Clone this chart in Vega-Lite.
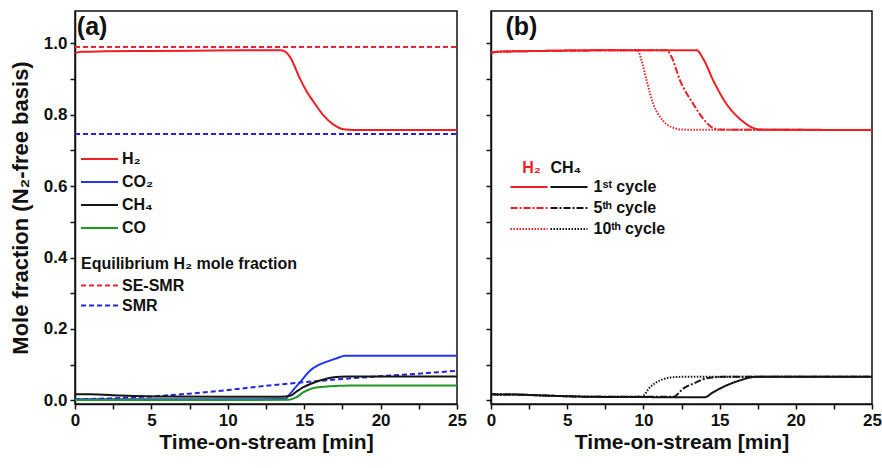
{
  "$schema": "https://vega.github.io/schema/vega-lite/v6.json",
  "padding": {"left": 8, "top": 10, "right": 5, "bottom": 5},
  "background": "white",
  "spacing": 16,
  "config": {
    "font": "Liberation Sans",
    "view": {"stroke": "#111", "strokeWidth": 1.5},
    "axis": {
      "labelFont": "Liberation Sans", "labelFontWeight": "bold", "labelFontSize": 17, "labelColor": "#111",
      "titleFont": "Liberation Sans", "titleFontWeight": "bold", "titleColor": "#111",
      "domainColor": "#111", "domainWidth": 1.5, "tickColor": "#111", "tickWidth": 1.5, "tickSize": 5,
      "grid": false, "labelFlush": false, "labelOverlap": false, "labelPadding": 3
    },
    "legend": {
      "labelFont": "Liberation Sans", "labelFontWeight": "bold", "labelFontSize": 16, "labelColor": "#111",
      "titleFont": "Liberation Sans", "titleFontWeight": "bold", "titleFontSize": 16, "titleColor": "#111", "titleLimit": 500, "labelLimit": 300,
      "symbolType": "M-1.135,0H2.865", "symbolStrokeWidth": 2.2, "symbolSize": 342, "labelOffset": 20, "rowPadding": 4, "padding": 0
    }
  },
  "datasets": {
    "a": [
      {"series": "H₂", "t": 0, "y": 0.972}, {"series": "H₂", "t": 0.4, "y": 0.976}, {"series": "H₂", "t": 2, "y": 0.977},
      {"series": "H₂", "t": 5, "y": 0.978}, {"series": "H₂", "t": 8, "y": 0.979}, {"series": "H₂", "t": 11, "y": 0.98},
      {"series": "H₂", "t": 13.5, "y": 0.98}, {"series": "H₂", "t": 14.08, "y": 0.961}, {"series": "H₂", "t": 14.73, "y": 0.9},
      {"series": "H₂", "t": 15.2, "y": 0.862}, {"series": "H₂", "t": 15.61, "y": 0.836}, {"series": "H₂", "t": 16.26, "y": 0.798},
      {"series": "H₂", "t": 16.92, "y": 0.772}, {"series": "H₂", "t": 17.57, "y": 0.759}, {"series": "H₂", "t": 18.2, "y": 0.757},
      {"series": "H₂", "t": 25, "y": 0.757},
      {"series": "CO₂", "t": 0, "y": 0.003}, {"series": "CO₂", "t": 5, "y": 0.003}, {"series": "CO₂", "t": 10, "y": 0.003},
      {"series": "CO₂", "t": 13.75, "y": 0.004}, {"series": "CO₂", "t": 14.08, "y": 0.019}, {"series": "CO₂", "t": 14.4, "y": 0.035},
      {"series": "CO₂", "t": 14.73, "y": 0.051}, {"series": "CO₂", "t": 15.39, "y": 0.084}, {"series": "CO₂", "t": 15.8, "y": 0.096},
      {"series": "CO₂", "t": 16.26, "y": 0.105}, {"series": "CO₂", "t": 17.14, "y": 0.118}, {"series": "CO₂", "t": 17.68, "y": 0.125},
      {"series": "CO₂", "t": 25, "y": 0.125},
      {"series": "CH₄", "t": 0, "y": 0.017}, {"series": "CH₄", "t": 1, "y": 0.017}, {"series": "CH₄", "t": 3, "y": 0.014},
      {"series": "CH₄", "t": 6, "y": 0.011}, {"series": "CH₄", "t": 10, "y": 0.01}, {"series": "CH₄", "t": 13.5, "y": 0.01},
      {"series": "CH₄", "t": 14.08, "y": 0.013}, {"series": "CH₄", "t": 14.5, "y": 0.025}, {"series": "CH₄", "t": 14.95, "y": 0.037},
      {"series": "CH₄", "t": 15.4, "y": 0.046}, {"series": "CH₄", "t": 15.83, "y": 0.053}, {"series": "CH₄", "t": 16.4, "y": 0.06},
      {"series": "CH₄", "t": 16.92, "y": 0.065}, {"series": "CH₄", "t": 17.8, "y": 0.067}, {"series": "CH₄", "t": 25, "y": 0.067},
      {"series": "CO", "t": 0, "y": 0.001}, {"series": "CO", "t": 10, "y": 0.001}, {"series": "CO", "t": 14.0, "y": 0.002},
      {"series": "CO", "t": 14.5, "y": 0.009}, {"series": "CO", "t": 14.95, "y": 0.023}, {"series": "CO", "t": 15.3, "y": 0.03},
      {"series": "CO", "t": 15.6, "y": 0.035}, {"series": "CO", "t": 16.5, "y": 0.039}, {"series": "CO", "t": 17.35, "y": 0.041},
      {"series": "CO", "t": 18, "y": 0.042}, {"series": "CO", "t": 25, "y": 0.042}
    ],
    "aeq": [
      {"eq": "SE-SMR", "curve": "se1", "t": 0, "y": 0.989}, {"eq": "SE-SMR", "curve": "se1", "t": 25, "y": 0.989},
      {"eq": "SMR", "curve": "smr1", "t": 0, "y": 0.746}, {"eq": "SMR", "curve": "smr1", "t": 25, "y": 0.746},
      {"eq": "SMR", "curve": "smr2", "t": 0, "y": 0.003}, {"eq": "SMR", "curve": "smr2", "t": 2.5, "y": 0.006},
      {"eq": "SMR", "curve": "smr2", "t": 5, "y": 0.011}, {"eq": "SMR", "curve": "smr2", "t": 7.5, "y": 0.019},
      {"eq": "SMR", "curve": "smr2", "t": 10, "y": 0.029}, {"eq": "SMR", "curve": "smr2", "t": 12.5, "y": 0.041},
      {"eq": "SMR", "curve": "smr2", "t": 15, "y": 0.051}, {"eq": "SMR", "curve": "smr2", "t": 17.5, "y": 0.06},
      {"eq": "SMR", "curve": "smr2", "t": 20, "y": 0.068}, {"eq": "SMR", "curve": "smr2", "t": 22.5, "y": 0.075},
      {"eq": "SMR", "curve": "smr2", "t": 25, "y": 0.083}
    ],
    "labels": [
      {"panel": "a", "label": "(a)"},
      {"panel": "b", "label": "(b)"}
    ],
    "b": [
      {"series": "H2", "cycle": "1ˢᵗ cycle", "t": 0, "y": 0.973}, {"series": "H2", "cycle": "1ˢᵗ cycle", "t": 0.5, "y": 0.976},
      {"series": "H2", "cycle": "1ˢᵗ cycle", "t": 3, "y": 0.978}, {"series": "H2", "cycle": "1ˢᵗ cycle", "t": 8, "y": 0.98},
      {"series": "H2", "cycle": "1ˢᵗ cycle", "t": 13.49, "y": 0.98}, {"series": "H2", "cycle": "1ˢᵗ cycle", "t": 13.93, "y": 0.956},
      {"series": "H2", "cycle": "1ˢᵗ cycle", "t": 14.58, "y": 0.896}, {"series": "H2", "cycle": "1ˢᵗ cycle", "t": 15.45, "y": 0.83},
      {"series": "H2", "cycle": "1ˢᵗ cycle", "t": 16.33, "y": 0.788}, {"series": "H2", "cycle": "1ˢᵗ cycle", "t": 17.09, "y": 0.765},
      {"series": "H2", "cycle": "1ˢᵗ cycle", "t": 17.64, "y": 0.758}, {"series": "H2", "cycle": "1ˢᵗ cycle", "t": 25, "y": 0.757},
      {"series": "H2", "cycle": "5ᵗʰ cycle", "t": 0, "y": 0.973}, {"series": "H2", "cycle": "5ᵗʰ cycle", "t": 0.5, "y": 0.976},
      {"series": "H2", "cycle": "5ᵗʰ cycle", "t": 3, "y": 0.978}, {"series": "H2", "cycle": "5ᵗʰ cycle", "t": 8, "y": 0.98},
      {"series": "H2", "cycle": "5ᵗʰ cycle", "t": 11.52, "y": 0.98}, {"series": "H2", "cycle": "5ᵗʰ cycle", "t": 11.85, "y": 0.961},
      {"series": "H2", "cycle": "5ᵗʰ cycle", "t": 12.4, "y": 0.896}, {"series": "H2", "cycle": "5ᵗʰ cycle", "t": 13.27, "y": 0.83},
      {"series": "H2", "cycle": "5ᵗʰ cycle", "t": 13.93, "y": 0.788}, {"series": "H2", "cycle": "5ᵗʰ cycle", "t": 14.47, "y": 0.765},
      {"series": "H2", "cycle": "5ᵗʰ cycle", "t": 15.02, "y": 0.758}, {"series": "H2", "cycle": "5ᵗʰ cycle", "t": 25, "y": 0.757},
      {"series": "H2", "cycle": "10ᵗʰ cycle", "t": 0, "y": 0.973}, {"series": "H2", "cycle": "10ᵗʰ cycle", "t": 0.5, "y": 0.976},
      {"series": "H2", "cycle": "10ᵗʰ cycle", "t": 3, "y": 0.978}, {"series": "H2", "cycle": "10ᵗʰ cycle", "t": 8, "y": 0.98},
      {"series": "H2", "cycle": "10ᵗʰ cycle", "t": 9.6, "y": 0.98}, {"series": "H2", "cycle": "10ᵗʰ cycle", "t": 9.88, "y": 0.952},
      {"series": "H2", "cycle": "10ᵗʰ cycle", "t": 10.21, "y": 0.896}, {"series": "H2", "cycle": "10ᵗʰ cycle", "t": 10.65, "y": 0.83},
      {"series": "H2", "cycle": "10ᵗʰ cycle", "t": 11.19, "y": 0.788}, {"series": "H2", "cycle": "10ᵗʰ cycle", "t": 11.85, "y": 0.765},
      {"series": "H2", "cycle": "10ᵗʰ cycle", "t": 12.6, "y": 0.758}, {"series": "H2", "cycle": "10ᵗʰ cycle", "t": 25, "y": 0.757},
      {"series": "CH4", "cycle": "1ˢᵗ cycle", "t": 0, "y": 0.017}, {"series": "CH4", "cycle": "1ˢᵗ cycle", "t": 2, "y": 0.016},
      {"series": "CH4", "cycle": "1ˢᵗ cycle", "t": 4, "y": 0.013}, {"series": "CH4", "cycle": "1ˢᵗ cycle", "t": 7, "y": 0.01},
      {"series": "CH4", "cycle": "1ˢᵗ cycle", "t": 14.03, "y": 0.009}, {"series": "CH4", "cycle": "1ˢᵗ cycle", "t": 14.58, "y": 0.023},
      {"series": "CH4", "cycle": "1ˢᵗ cycle", "t": 15.45, "y": 0.042}, {"series": "CH4", "cycle": "1ˢᵗ cycle", "t": 16.33, "y": 0.056},
      {"series": "CH4", "cycle": "1ˢᵗ cycle", "t": 16.98, "y": 0.064}, {"series": "CH4", "cycle": "1ˢᵗ cycle", "t": 17.42, "y": 0.066},
      {"series": "CH4", "cycle": "1ˢᵗ cycle", "t": 25, "y": 0.066},
      {"series": "CH4", "cycle": "5ᵗʰ cycle", "t": 0, "y": 0.017}, {"series": "CH4", "cycle": "5ᵗʰ cycle", "t": 2, "y": 0.016},
      {"series": "CH4", "cycle": "5ᵗʰ cycle", "t": 4, "y": 0.013}, {"series": "CH4", "cycle": "5ᵗʰ cycle", "t": 7, "y": 0.01},
      {"series": "CH4", "cycle": "5ᵗʰ cycle", "t": 11.96, "y": 0.01}, {"series": "CH4", "cycle": "5ᵗʰ cycle", "t": 12.61, "y": 0.033},
      {"series": "CH4", "cycle": "5ᵗʰ cycle", "t": 13.49, "y": 0.051}, {"series": "CH4", "cycle": "5ᵗʰ cycle", "t": 14.14, "y": 0.062},
      {"series": "CH4", "cycle": "5ᵗʰ cycle", "t": 15.24, "y": 0.066}, {"series": "CH4", "cycle": "5ᵗʰ cycle", "t": 25, "y": 0.066},
      {"series": "CH4", "cycle": "10ᵗʰ cycle", "t": 0, "y": 0.017}, {"series": "CH4", "cycle": "10ᵗʰ cycle", "t": 2, "y": 0.016},
      {"series": "CH4", "cycle": "10ᵗʰ cycle", "t": 4, "y": 0.013}, {"series": "CH4", "cycle": "10ᵗʰ cycle", "t": 7, "y": 0.01},
      {"series": "CH4", "cycle": "10ᵗʰ cycle", "t": 9.88, "y": 0.01}, {"series": "CH4", "cycle": "10ᵗʰ cycle", "t": 10.43, "y": 0.037},
      {"series": "CH4", "cycle": "10ᵗʰ cycle", "t": 11.09, "y": 0.056}, {"series": "CH4", "cycle": "10ᵗʰ cycle", "t": 11.96, "y": 0.065},
      {"series": "CH4", "cycle": "10ᵗʰ cycle", "t": 12.5, "y": 0.066}, {"series": "CH4", "cycle": "10ᵗʰ cycle", "t": 25, "y": 0.066}
    ]
  },
  "hconcat": [
    {
      "width": 382,
      "height": 393,
      "layer": [
        {
          "data": {"name": "aeq"},
          "mark": {"type": "line", "strokeWidth": 2, "strokeDash": [5, 3]},
          "encoding": {
            "x": {
              "field": "t", "type": "quantitative",
              "scale": {"domain": [0, 25], "nice": false, "zero": false},
              "axis": {
                "title": "Time-on-stream [min]", "titleFontSize": 21, "titlePadding": 3, "labelPadding": 3,
                "values": [0, 2.5, 5, 7.5, 10, 12.5, 15, 17.5, 20, 22.5, 25],
                "labelExpr": "datum.value % 5 == 0 ? datum.label : ''"
              }
            },
            "y": {
              "field": "y", "type": "quantitative",
              "scale": {"domain": [-0.01, 1.09], "nice": false, "zero": false},
              "axis": {
                "title": "Mole fraction (N₂-free basis)", "titleFontSize": 22, "titlePadding": 11,
                "values": [0, 0.1, 0.2, 0.3, 0.4, 0.5, 0.6, 0.7, 0.8, 0.9, 1.0],
                "labelExpr": "round(datum.value * 10) % 2 == 0 ? format(datum.value, '.1f') : ''"
              }
            },
            "color": {
              "field": "eq", "type": "nominal",
              "scale": {"domain": ["SE-SMR", "SMR"], "range": ["#e8262e", "#2424d8"]},
              "legend": {"title": "Equilibrium H₂ mole fraction", "orient": "none", "legendX": 6, "legendY": 245, "symbolDash": [5, 3], "titlePadding": 3, "rowPadding": 1}
            },
            "detail": {"field": "curve"}
          }
        },
        {
          "data": {"name": "a"},
          "mark": {"type": "line", "strokeWidth": 2, "interpolate": "monotone"},
          "encoding": {
            "x": {
              "field": "t", "type": "quantitative",
              "axis": {
                "title": "Time-on-stream [min]", "titleFontSize": 21, "titlePadding": 3, "labelPadding": 3,
                "values": [0, 2.5, 5, 7.5, 10, 12.5, 15, 17.5, 20, 22.5, 25],
                "labelExpr": "datum.value % 5 == 0 ? datum.label : ''"
              }
            },
            "y": {
              "field": "y", "type": "quantitative",
              "axis": {
                "title": "Mole fraction (N₂-free basis)", "titleFontSize": 22, "titlePadding": 11,
                "values": [0, 0.1, 0.2, 0.3, 0.4, 0.5, 0.6, 0.7, 0.8, 0.9, 1.0],
                "labelExpr": "round(datum.value * 10) % 2 == 0 ? format(datum.value, '.1f') : ''"
              }
            },
            "color": {
              "field": "series", "type": "nominal",
              "scale": {"domain": ["H₂", "CO₂", "CH₄", "CO"], "range": ["#f01e23", "#2236f0", "#151515", "#23952a"]},
              "legend": {"title": null, "orient": "none", "legendX": 6, "legendY": 137.5, "rowPadding": 4}
            }
          }
        },
        {
          "data": {"name": "labels"},
          "transform": [{"filter": "datum.panel == 'a'"}],
          "mark": {"type": "text", "fontSize": 25, "fontWeight": "bold", "align": "left", "baseline": "middle", "color": "#111"},
          "encoding": {
            "x": {
              "datum": 0.12, "type": "quantitative",
              "axis": {
                "title": "Time-on-stream [min]", "titleFontSize": 21, "titlePadding": 3, "labelPadding": 3,
                "values": [0, 2.5, 5, 7.5, 10, 12.5, 15, 17.5, 20, 22.5, 25],
                "labelExpr": "datum.value % 5 == 0 ? datum.label : ''"
              }
            },
            "y": {
              "datum": 1.045, "type": "quantitative",
              "axis": {
                "title": "Mole fraction (N₂-free basis)", "titleFontSize": 22, "titlePadding": 11,
                "values": [0, 0.1, 0.2, 0.3, 0.4, 0.5, 0.6, 0.7, 0.8, 0.9, 1.0],
                "labelExpr": "round(datum.value * 10) % 2 == 0 ? format(datum.value, '.1f') : ''"
              }
            },
            "text": {"field": "label"}
          }
        }
      ],
      "resolve": {"scale": {"color": "independent"}}
    },
    {
      "width": 381,
      "height": 393,
      "layer": [
        {
          "data": {"name": "b"},
          "transform": [{"filter": "datum.series == 'H2'"}],
          "mark": {"type": "line", "strokeWidth": 2, "color": "#f01e23", "interpolate": "monotone"},
          "encoding": {
            "x": {
              "field": "t", "type": "quantitative",
              "scale": {"domain": [0, 25], "nice": false, "zero": false},
              "axis": {
                "title": "Time-on-stream [min]", "titleFontSize": 21, "titlePadding": 3, "labelPadding": 3,
                "values": [0, 2.5, 5, 7.5, 10, 12.5, 15, 17.5, 20, 22.5, 25],
                "labelExpr": "datum.value % 5 == 0 ? datum.label : ''"
              }
            },
            "y": {
              "field": "y", "type": "quantitative",
              "scale": {"domain": [-0.01, 1.09], "nice": false, "zero": false},
              "axis": {"title": null, "labels": false, "values": [0, 0.1, 0.2, 0.3, 0.4, 0.5, 0.6, 0.7, 0.8, 0.9, 1.0]}
            },
            "strokeDash": {
              "field": "cycle", "type": "nominal",
              "scale": {"domain": ["1ˢᵗ cycle", "5ᵗʰ cycle", "10ᵗʰ cycle"], "range": [[1, 0], [7, 2, 2, 2], [1.5, 1.5]]},
              "legend": {"title": "H₂", "titleColor": "#f01e23", "titleAnchor": "middle", "labelExpr": "''", "labelOffset": 0, "symbolStrokeColor": "#f01e23", "orient": "none", "legendX": 19.5, "legendY": 149, "rowPadding": 2, "titlePadding": 0.5}
            }
          }
        },
        {
          "data": {"name": "b"},
          "transform": [{"filter": "datum.series == 'CH4'"}],
          "mark": {"type": "line", "strokeWidth": 2, "color": "#151515", "interpolate": "monotone"},
          "encoding": {
            "x": {
              "field": "t", "type": "quantitative",
              "axis": {
                "title": "Time-on-stream [min]", "titleFontSize": 21, "titlePadding": 3, "labelPadding": 3,
                "values": [0, 2.5, 5, 7.5, 10, 12.5, 15, 17.5, 20, 22.5, 25],
                "labelExpr": "datum.value % 5 == 0 ? datum.label : ''"
              }
            },
            "y": {
              "field": "y", "type": "quantitative",
              "axis": {"title": null, "labels": false, "values": [0, 0.1, 0.2, 0.3, 0.4, 0.5, 0.6, 0.7, 0.8, 0.9, 1.0]}
            },
            "strokeDash": {
              "field": "cycle", "type": "nominal",
              "scale": {"domain": ["1ˢᵗ cycle", "5ᵗʰ cycle", "10ᵗʰ cycle"], "range": [[1, 0], [7, 2, 2, 2], [1.5, 1.5]]},
              "legend": {"title": "CH₄", "symbolStrokeColor": "#151515", "orient": "none", "legendX": 59.5, "legendY": 149, "rowPadding": 2, "titlePadding": 0.5, "labelOffset": 22}
            }
          }
        },
        {
          "data": {"name": "labels"},
          "transform": [{"filter": "datum.panel == 'b'"}],
          "mark": {"type": "text", "fontSize": 25, "fontWeight": "bold", "align": "left", "baseline": "middle", "color": "#111"},
          "encoding": {
            "x": {
              "datum": 0.95, "type": "quantitative",
              "axis": {
                "title": "Time-on-stream [min]", "titleFontSize": 21, "titlePadding": 3, "labelPadding": 3,
                "values": [0, 2.5, 5, 7.5, 10, 12.5, 15, 17.5, 20, 22.5, 25],
                "labelExpr": "datum.value % 5 == 0 ? datum.label : ''"
              }
            },
            "y": {
              "datum": 1.045, "type": "quantitative",
              "axis": {"title": null, "labels": false, "values": [0, 0.1, 0.2, 0.3, 0.4, 0.5, 0.6, 0.7, 0.8, 0.9, 1.0]}
            },
            "text": {"field": "label"}
          }
        }
      ],
      "resolve": {"scale": {"strokeDash": "independent"}}
    }
  ]
}
